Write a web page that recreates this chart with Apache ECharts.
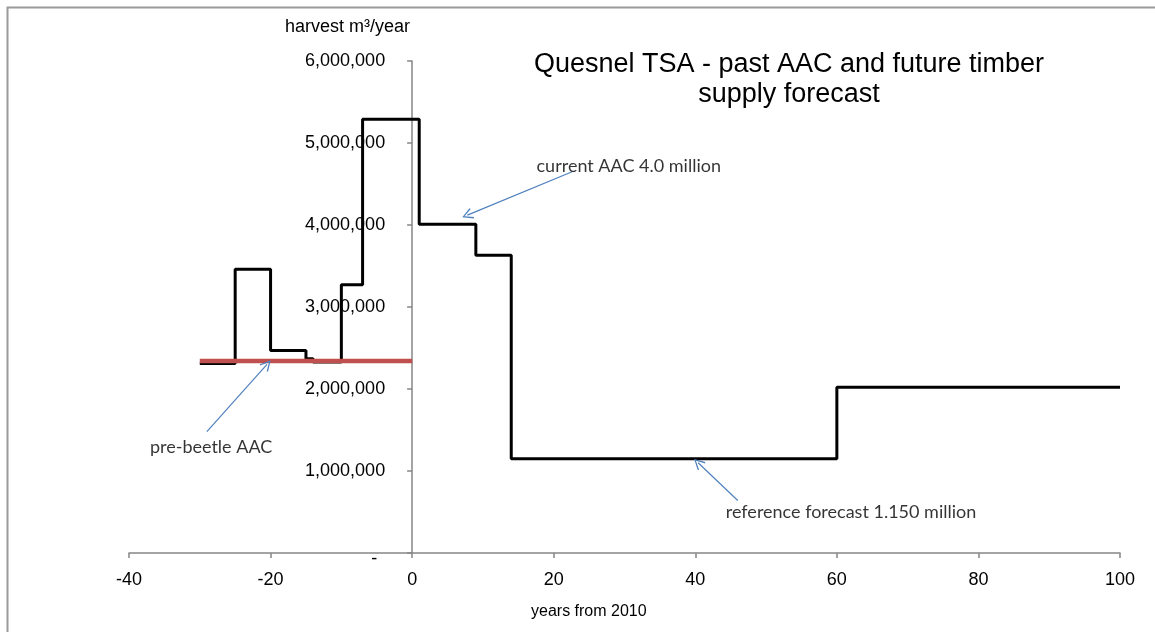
<!DOCTYPE html>
<html>
<head>
<meta charset="utf-8">
<script src="https://cdn.jsdelivr.net/npm/echarts@6/dist/echarts.min.js"></script>
<style>
  html, body { margin: 0; padding: 0; background: #fff; }
  #box { width: 1155px; height: 632px; }
</style>
</head>
<body>
<div id="box"></div>
<script>
// harvest steps: each value starts at its year and runs to the next year
var years = [-30, -25, -20, -15, -14, -10, -7, 1, 9, 14, 60, 100];
var harvest = [2310000, 3460000, 2470000, 2370000, 2330000, 3270000, 5290000, 4010000, 3630000, 1150000, 2020000, 2020000];

// pre-beetle AAC level
var preBeetleYears = [-30, 0];
var preBeetleAAC = [2340000, 2340000];

// axis ranges
var xMin = -40, xMax = 100, xStep = 20;
var yMin = 0, yMax = 6000000, yStep = 1000000;

// notes: text, text anchor, arrow tail, arrow tip (data coords)
var notes = [
    { text: 'pre-beetle AAC', at: [-28.4, 1290000], from: [-29.0, 1480000], to: [-20.5, 2300000] },
    { text: 'current AAC 4.0 million', at: [30.6, 4720000], from: [22.6, 4650000], to: [7.8, 4120000] },
    { text: 'reference forecast 1.150 million', at: [62.0, 500000], from: [46.0, 640000], to: [40.4, 1100000] }
];

var W = 1155;
var gridLeft = 129, gridRight = 35;
var plotW = W - gridLeft - gridRight;
// y axis sits at year 0, shift it from the grid's left edge
var yShift = -(0 - xMin) / (xMax - xMin) * plotW;

var chart = echarts.init(document.getElementById('box'));

var stepData = years.map(function (y, i) { return [y, harvest[i]]; });
var redData = preBeetleYears.map(function (y, i) { return [y, preBeetleAAC[i]]; });

function fmt(v) {
    if (v === 0) return '{z|-}';
    return String(v).replace(/\B(?=(\d{3})+(?!\d))/g, ',');
}

var arrowHead = 'path://M5,0 L10,9 L9,9.8 L5,2.2 L1,9.8 L0,9 Z';

var option = {
    animation: false,
    title: {
        text: 'Quesnel TSA - past AAC and future timber\nsupply forecast',
        left: 784,
        top: 45,
        textAlign: 'center',
        textStyle: {
            fontFamily: 'Liberation Sans',
            fontSize: 27,
            fontWeight: 'normal',
            color: '#000',
            lineHeight: 30
        }
    },
    grid: { left: gridLeft, right: gridRight, top: 61, bottom: 79 },
    xAxis: {
        type: 'value',
        min: xMin,
        max: xMax,
        interval: xStep,
        splitLine: { show: false },
        axisLine: { lineStyle: { color: '#868686', width: 1.5 } },
        axisTick: { length: 5, lineStyle: { color: '#868686', width: 1.5 } },
        axisLabel: { margin: 18, fontFamily: 'Liberation Sans', fontSize: 18, color: '#000' }
    },
    yAxis: {
        type: 'value',
        min: yMin,
        max: yMax,
        interval: yStep,
        offset: yShift,
        splitLine: { show: false },
        axisLine: { show: true, onZero: false, lineStyle: { color: '#868686', width: 1.5 } },
        axisTick: { show: true, length: 5, lineStyle: { color: '#868686', width: 1.5 } },
        axisLabel: {
            margin: 27,
            fontFamily: 'Liberation Sans',
            fontSize: 18,
            color: '#000',
            formatter: fmt,
            rich: {
                z: { fontFamily: 'Liberation Sans', fontSize: 18, color: '#000', padding: [12, 8, 0, 0] }
            }
        }
    },
    graphic: [
        {
            type: 'rect',
            shape: { x: 7.5, y: 7.5, width: 1300, height: 800 },
            style: { fill: 'none', stroke: '#9a9a9a', lineWidth: 2 },
            silent: true
        },
        {
            type: 'text',
            left: 285,
            top: 18,
            style: { text: 'harvest m³/year', fontFamily: 'Liberation Sans', fontSize: 18, fill: '#000' }
        },
        {
            type: 'text',
            left: 531,
            top: 604,
            style: { text: 'years from 2010', fontFamily: 'Liberation Sans', fontSize: 16, fill: '#000' }
        }
    ],
    series: [
        {
            name: 'harvest',
            type: 'line',
            step: 'end',
            data: stepData,
            showSymbol: false,
            lineStyle: { color: '#000', width: 3 },
            z: 3
        },
        {
            name: 'pre-beetle AAC',
            type: 'line',
            data: redData,
            showSymbol: false,
            lineStyle: { color: '#C0504D', width: 4.5 },
            z: 4
        },
        {
            name: 'notes',
            type: 'scatter',
            symbolSize: 0,
            data: notes.map(function (n) { return { name: n.text, value: n.at }; }),
            label: {
                show: true,
                position: 'inside',
                formatter: '{b}',
                fontFamily: 'Lato',
                fontSize: 18,
                color: '#000',
                textBorderWidth: 0
            },
            markLine: {
                silent: true,
                symbol: ['none', arrowHead],
                symbolSize: [11, 11],
                label: { show: false },
                lineStyle: { color: '#4F81BD', width: 1.2, type: 'solid' },
                data: notes.map(function (n) { return [{ coord: n.from }, { coord: n.to }]; })
            },
            z: 5
        }
    ]
};

chart.setOption(option);
</script>
</body>
</html>
